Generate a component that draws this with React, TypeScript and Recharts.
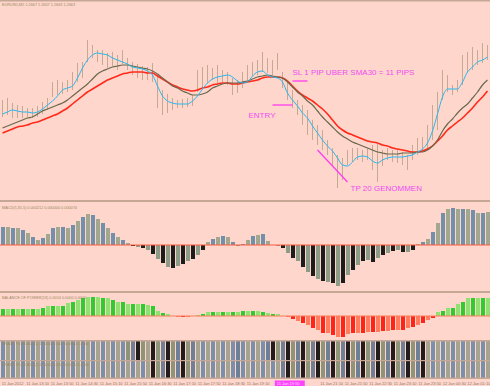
import React from 'react';
import {
  ComposedChart,
  BarChart,
  Bar,
  Line,
  XAxis,
  YAxis,
  Cell,
  ReferenceLine,
  ReferenceDot,
} from 'recharts';

// EURUSD M5, price pane in points above the pane floor
const cyanMa = [
  86, 88, 90, 89, 88, 88, 87, 88, 91, 95,
  99, 104, 110, 112, 114, 122, 132, 140, 145, 147,
  146, 145, 142, 140, 138, 136, 133, 132, 131, 129,
  125, 114, 104, 99, 97, 96, 96, 96, 99, 104,
  111, 117, 121, 123, 124, 125, 123, 119, 117, 118,
  124, 128, 129, 125, 123, 122, 118, 107, 100, 94,
  87, 82, 74, 67, 60, 54, 49, 42, 35, 34,
  38, 43, 44, 43, 39, 37, 40, 42, 43, 43,
  43, 44, 45, 48, 51, 57, 69, 86, 103, 111,
  111, 111, 118, 128, 133, 138, 140, 143,
];
const oliveMa = [
  72, 74, 76, 78, 80, 82, 83, 86, 89, 91,
  93, 95, 97, 100, 104, 108, 112, 116, 121, 126,
  129, 131, 133, 134, 135, 135, 134, 133, 132, 131,
  129, 126, 122, 118, 114, 112, 109, 107, 105, 105,
  106, 108, 112, 114, 116, 117, 117, 117, 118, 119,
  121, 123, 124, 125, 124, 123, 122, 118, 113, 108,
  104, 99, 95, 89, 83, 78, 73, 68, 64, 61,
  58, 56, 54, 52, 50, 48, 47, 46, 46, 46,
  47, 47, 47, 48, 48, 50, 54, 60, 69, 76,
  81, 87, 92, 96, 102, 108, 115, 120,
];
const redMa = [
  67, 69, 71, 73, 74, 75, 77, 78, 80, 82,
  84, 86, 89, 92, 96, 100, 104, 108, 111, 114,
  117, 120, 122, 124, 126, 127, 128, 128, 128, 127,
  127, 124, 121, 118, 115, 113, 111, 110, 109, 110,
  112, 113, 115, 116, 117, 117, 116, 116, 117, 118,
  119, 120, 122, 123, 123, 123, 122, 119, 114, 109,
  105, 102, 99, 95, 91, 86, 80, 74, 70, 67,
  65, 63, 61, 59, 58, 57, 55, 54, 52, 51,
  50, 49, 48, 48, 49, 51, 54, 59, 64, 70,
  74, 78, 82, 87, 92, 98, 103, 109,
];
const barHigh = [
  100, 102, 97, 95, 94, 92, 92, 94, 98, 102,
  118, 120, 118, 120, 128, 137, 138, 160, 155, 150,
  150, 147, 148, 145, 150, 142, 138, 136, 134, 133,
  137, 125, 110, 106, 102, 100, 101, 102, 105, 130,
  133, 135, 132, 135, 130, 128, 122, 120, 128, 135,
  138, 140, 148, 142, 140, 147, 128, 117, 110, 100,
  95, 90, 80, 75, 70, 60, 52, 45, 42, 50,
  52, 52, 50, 52, 55, 57, 50, 52, 50, 50,
  48, 45, 55, 62, 63, 75, 95, 108, 130, 125,
  115, 120, 145, 148, 153, 150, 157, 155,
];
const barLow = [
  83, 85, 82, 82, 82, 83, 82, 83, 86, 90,
  103, 105, 106, 108, 110, 118, 122, 138, 142, 138,
  135, 132, 134, 130, 136, 130, 125, 122, 120, 120,
  118, 92, 85, 87, 90, 92, 92, 93, 94, 108,
  112, 117, 120, 117, 118, 115, 105, 107, 112, 120,
  124, 125, 128, 127, 125, 130, 112, 100, 92, 85,
  75, 65, 60, 55, 50, 45, 35, 12, 20, 35,
  38, 40, 38, 40, 30, 18, 34, 40, 38, 37,
  35, 30, 40, 45, 48, 50, 60, 70, 100, 108,
  105, 108, 115, 128, 130, 135, 137, 140,
];

// oscillator panes
const macdHist = [
  18, 18, 17, 17, 15, 12, 8, 5, 7, 11,
  17, 18, 18, 17, 20, 24, 28, 31, 30, 26,
  22, 17, 12, 8, 5, 2, -1, -2, -3, -5,
  -9, -14, -18, -22, -23, -21, -19, -16, -14, -10,
  -5, 3, 6, 8, 9, 8, 3, -1, 1, 5,
  9, 10, 11, 4, 0, -1, -3, -8, -13, -16,
  -22, -27, -31, -34, -36, -37, -38, -41, -38, -30,
  -25, -20, -16, -15, -17, -13, -10, -8, -6, -5,
  -7, -7, -5, 1, 3, 6, 13, 22, 32, 36,
  37, 36, 36, 36, 35, 32, 32, 33,
];
const powerHist = [
  7, 7, 7, 7, 7, 7, 7, 7, 8, 10,
  10, 10, 10, 13, 14, 16, 18, 19, 19, 19,
  18, 18, 16, 14, 14, 12, 12, 12, 12, 11,
  10, 5, 3, 2, 0, -1, -1, -1, 0, 1,
  2, 4, 4, 4, 4, 4, 4, 4, 5, 5,
  5, 5, 4, 3, 2, 2, 0, -1, -3, -5,
  -7, -9, -12, -14, -17, -17, -19, -21, -21, -18,
  -17, -17, -17, -16, -16, -16, -15, -15, -14, -14,
  -14, -12, -11, -9, -7, -4, -2, 4, 5, 8,
  8, 12, 14, 18, 18, 18, 18, 18,
];

// signal strips, 1 = dark bar
const stripTop = [
  0, 0, 0, 0, 0, 0, 0, 0, 0, 0,
  0, 0, 0, 0, 0, 0, 0, 0, 0, 0,
  0, 0, 0, 0, 0, 1, 1, 1, 1, 0,
  1, 1, 1, 1, 1, 1, 1, 1, 1, 0,
  0, 0, 0, 0, 0, 0, 0, 1, 0, 0,
  0, 0, 0, 1, 1, 1, 1, 1, 1, 1,
  1, 1, 1, 1, 1, 1, 1, 1, 1, 1,
  1, 1, 1, 1, 1, 1, 1, 1, 1, 1,
  1, 1, 1, 1, 1, 0, 0, 0, 0, 0,
  0, 0, 0, 0, 0, 0, 0, 0,
];
const stripBottom = [
  0, 0, 0, 0, 0, 0, 0, 0, 0, 0,
  0, 0, 0, 0, 0, 0, 0, 0, 0, 0,
  0, 0, 0, 0, 0, 0, 0, 0, 0, 0,
  1, 1, 1, 1, 1, 1, 1, 1, 1, 0,
  0, 0, 0, 0, 0, 0, 0, 1, 0, 0,
  0, 0, 0, 0, 0, 0, 1, 1, 1, 1,
  1, 1, 1, 1, 1, 1, 1, 1, 1, 1,
  1, 1, 1, 1, 1, 1, 1, 1, 1, 1,
  1, 1, 1, 1, 1, 0, 0, 0, 0, 0,
  0, 0, 0, 0, 0, 0, 0, 0,
];

const timeLabels = [
  '11 Jan 2012', '11 Jan 13:10', '11 Jan 13:50', '11 Jan 14:30', '11 Jan 15:10',
  '11 Jan 15:50', '11 Jan 16:30', '11 Jan 17:10', '11 Jan 17:50', '11 Jan 18:30',
  '11 Jan 19:10', '11 Jan 19:50', '11 Jan 20:30', '11 Jan 21:10', '11 Jan 21:50',
  '11 Jan 22:30', '11 Jan 23:10', '11 Jan 23:50', '12 Jan 00:30', '12 Jan 01:10',
];
const cursorLabel = 11; // selected time, drawn highlighted over its neighbour

const W = 490;
const BG = '#ffd6cc';
const RULE = '#c6a695';
const INK = '#9a8a62';
const PINK = '#f04cf0';
const FONT = 'Liberation Sans, Arial, sans-serif';
const M = { top: 0, right: 0, bottom: 0, left: 0 };

const rows = cyanMa.map((v, i) => ({
  t: i,
  cyan: v,
  olive: oliveMa[i],
  red: redMa[i],
  range: [barLow[i], barHigh[i]],
  macd: macdHist[i],
  power: powerHist[i],
  s1: 1,
  s2: 1,
}));
const timeRows = timeLabels.map((label) => ({ label, v: 0 }));

const macdColor = (v: number, i: number) =>
  v >= 0 ? (i % 2 ? '#a3a78e' : '#7290ab') : i % 2 ? '#8e9b86' : '#1c1c1c';
const powerColor = (v: number, i: number) =>
  v >= 0 ? (i % 2 ? '#92e072' : '#2ecc2e') : i % 2 ? '#ff7d5e' : '#ff2418';
const stripColor = (dark: number, i: number) => {
  if (dark) return ['#221c1c', '#8d9478', '#6f7f96'][i % 3];
  return i % 2 ? '#a6a48e' : '#7890ab';
};

const TimeTick = (props: any) => {
  const { x, y, payload, index } = props;
  if (index === cursorLabel + 1) return <g />;
  if (index === cursorLabel) {
    return (
      <g>
        <rect x={x - 7} y={y + 4.5} width={30} height={5.5} fill="#ff44ff" />
        <text x={x - 5} y={y + 8.8} fontSize={4} fill="#ffe0ff" fontFamily={FONT}>
          {payload.value}
        </text>
      </g>
    );
  }
  return (
    <text x={x - 10.5} y={y + 8.5} fontSize={4} fill="#8a7868" fontFamily={FONT}>
      {payload.value}
    </text>
  );
};

const pinkLabel = (value: string, offset: number) => ({
  value,
  position: 'right' as const,
  offset,
  fill: PINK,
  fontSize: 8,
  fontFamily: FONT,
});

export default function App() {
  return (
    <div
      style={{
        position: 'absolute',
        left: 0,
        top: 0,
        width: W,
        height: 386,
        background: BG,
        overflow: 'hidden',
      }}
    >
      <div style={{ position: 'absolute', left: 0, top: 0 }}>
        <ComposedChart width={W} height={200} data={rows} margin={M}>
          <XAxis dataKey="t" hide />
          <YAxis hide domain={[0, 200]} allowDataOverflow />
          <Bar dataKey="range" barSize={1} fill="#c4aa92" isAnimationActive={false} />
          <Line dataKey="red" type="monotone" stroke="#ff2a1a" strokeWidth={1.6} dot={false} activeDot={false} isAnimationActive={false} />
          <Line dataKey="olive" type="monotone" stroke="#6a684c" strokeWidth={1.2} dot={false} activeDot={false} isAnimationActive={false} />
          <Line dataKey="cyan" type="monotone" stroke="#28b8ee" strokeWidth={1} dot={false} activeDot={false} isAnimationActive={false} />
          <ReferenceLine segment={[{ x: 58, y: 119 }, { x: 61, y: 119 }]} stroke="#ff3cf0" strokeWidth={1.3} />
          <ReferenceLine segment={[{ x: 54, y: 95 }, { x: 58, y: 95 }]} stroke="#ff3cf0" strokeWidth={1.3} />
          <ReferenceLine segment={[{ x: 63, y: 50 }, { x: 69, y: 18 }]} stroke="#ff3cf0" strokeWidth={1.3} />
          <ReferenceDot x={58} y={128} r={0} stroke="none" label={pinkLabel('SL 1 PIP UBER SMA30 = 11 PIPS', 0)} />
          <ReferenceDot x={49} y={85} r={0} stroke="none" label={pinkLabel('ENTRY', 1)} />
          <ReferenceDot x={69} y={12} r={0} stroke="none" label={pinkLabel('TP 20 GENOMMEN', 3)} />
        </ComposedChart>
      </div>

      <div style={{ position: 'absolute', left: 0, top: 202 }}>
        <BarChart width={W} height={89} data={rows} margin={M}>
          <XAxis dataKey="t" hide />
          <YAxis hide domain={[-46, 43]} allowDataOverflow />
          <Bar dataKey="macd" barSize={4} isAnimationActive={false}>
            {rows.map((r, i) => (
              <Cell key={i} fill={macdColor(r.macd, i)} />
            ))}
          </Bar>
          <ReferenceLine y={0} stroke="#ff5a3c" />
        </BarChart>
      </div>

      <div style={{ position: 'absolute', left: 0, top: 293 }}>
        <BarChart width={W} height={47} data={rows} margin={M}>
          <XAxis dataKey="t" hide />
          <YAxis hide domain={[-24, 23]} allowDataOverflow />
          <Bar dataKey="power" barSize={4} isAnimationActive={false}>
            {rows.map((r, i) => (
              <Cell key={i} fill={powerColor(r.power, i)} />
            ))}
          </Bar>
          <ReferenceLine y={0} stroke="#ff7a5a" />
        </BarChart>
      </div>

      <div style={{ position: 'absolute', left: 0, top: 341 }}>
        <BarChart width={W} height={19} data={rows} margin={M}>
          <XAxis dataKey="t" hide />
          <YAxis hide domain={[0, 1]} />
          <Bar dataKey="s1" barSize={4} isAnimationActive={false}>
            {rows.map((_, i) => (
              <Cell key={i} fill={stripColor(stripTop[i], i)} />
            ))}
          </Bar>
        </BarChart>
      </div>

      <div style={{ position: 'absolute', left: 0, top: 361 }}>
        <BarChart width={W} height={17} data={rows} margin={M}>
          <XAxis dataKey="t" hide />
          <YAxis hide domain={[0, 1]} />
          <Bar dataKey="s2" barSize={4} isAnimationActive={false}>
            {rows.map((_, i) => (
              <Cell key={i} fill={stripColor(stripBottom[i], i)} />
            ))}
          </Bar>
        </BarChart>
      </div>

      <div style={{ position: 'absolute', left: 0, top: 372 }}>
        <BarChart width={W} height={14} data={timeRows} margin={M}>
          <XAxis
            dataKey="label"
            height={10}
            axisLine={false}
            tickLine={false}
            tickSize={0}
            tickMargin={0}
            interval={0}
            tick={(p: any) => <TimeTick {...p} />}
          />
          <YAxis hide />
          <Bar dataKey="v" isAnimationActive={false} />
        </BarChart>
      </div>

      <svg
        width={W}
        height={386}
        style={{ position: 'absolute', left: 0, top: 0, pointerEvents: 'none' }}
        fontFamily={FONT}
      >
        <rect x={0} y={0} width={W} height={1.5} fill={RULE} />
        <rect x={0} y={200} width={W} height={2} fill={RULE} />
        <rect x={0} y={291} width={W} height={2} fill={RULE} />
        <rect x={0} y={340} width={W} height={1.5} fill={RULE} />
        <rect x={0} y={360} width={W} height={1.2} fill={RULE} />
        <rect x={0} y={377.5} width={W} height={1.5} fill={RULE} />
        <text x={2} y={6} fontSize={3.8} fill={INK}>EURUSD,M5 1.2667 1.2667 1.2663 1.2663</text>
        <text x={2} y={209} fontSize={3.8} fill={INK}>MACD(5,35,5) 0.000212 0.000000 0.000074</text>
        <text x={2} y={298.5} fontSize={3.8} fill={INK}>BALANCE OF POWER(13) 0.0014 0.0000 0.0000</text>
        <text x={2} y={345} fontSize={3.8} fill={INK}>TRADE PLUS ADJ(1) 1.0000 0.0000 0.0000 1.0000</text>
        <text x={2} y={366} fontSize={3.8} fill={INK}>TRADE PLUS ADJ(2) 1.0000 0.0000 0.0000 1.0000</text>
      </svg>
    </div>
  );
}
